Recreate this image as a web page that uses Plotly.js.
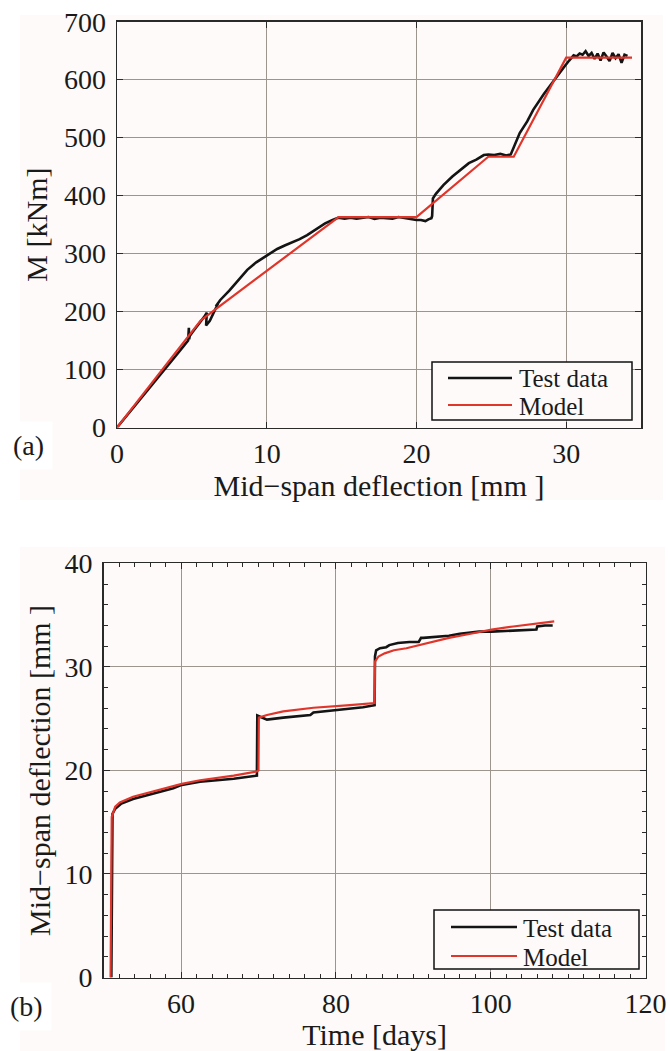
<!DOCTYPE html>
<html>
<head>
<meta charset="utf-8">
<script src="https://cdn.plot.ly/plotly-3.0.1.min.js"></script>
<style>
html,body{margin:0;padding:0;background:#ffffff;}
#chart{width:670px;height:1051px;}
</style>
</head>
<body>
<div id="chart"></div>
<script>
// ---------- (a) Moment vs mid-span deflection ----------
const deflTest = [0, 1.0, 2.0, 3.0, 4.0, 4.5, 4.75, 4.8, 4.82, 4.86, 5.0, 5.4, 5.8, 6.0, 5.95, 6.2, 6.5, 6.75, 6.6, 6.9, 7.5, 8.1, 8.7, 9.3, 10.0, 10.7, 11.2, 11.6, 12.2, 12.7, 13.3, 13.9, 14.4, 14.8, 15.2, 15.6, 16.0, 16.4, 16.8, 17.2, 17.6, 18.0, 18.4, 18.8, 19.2, 19.6, 20.0, 20.3, 20.6, 20.8, 21.0, 21.05, 21.1, 21.3, 21.8, 22.4, 22.9, 23.5, 24.0, 24.5, 24.8, 25.2, 25.6, 26.0, 26.3, 26.6, 26.9, 27.4, 27.8, 28.5, 29.2, 29.6, 29.9, 30.2, 30.5, 30.7, 30.9, 31.1, 31.3, 31.5, 31.7, 31.9, 32.1, 32.3, 32.5, 32.7, 32.9, 33.1, 33.3, 33.5, 33.7, 33.9, 34.1];
const momentTest = [0, 31, 62, 94, 126, 142, 150, 172, 152, 158, 163, 176, 190, 198, 176, 184, 200, 214, 209, 220, 236, 255, 272, 285, 297, 308, 314, 318, 325, 332, 342, 352, 358, 362, 360, 362, 360, 361, 363, 360, 362, 361, 360, 363, 361, 360, 358, 358, 356, 359, 361, 365, 395, 403, 418, 433, 444, 456, 462, 470, 471, 470, 472, 469, 471, 490, 508, 528, 548, 575, 600, 614, 623, 633, 642, 640, 645, 643, 649, 641, 646, 636, 645, 633, 647, 640, 632, 646, 637, 644, 629, 643, 641];
const deflModel = [0, 5.6, 14.8, 20.0, 24.8, 26.5, 30.0, 34.4];
const momentModel = [0, 185, 363, 363, 467, 467, 638, 638];

// ---------- (b) Mid-span deflection vs time ----------
const timeTest = [51.0, 51.05, 51.15, 51.5, 52.3, 53.8, 56.0, 59.0, 60.1, 62.45, 66.8, 69.8, 69.85, 70.2, 71.1, 73.2, 76.7, 77.1, 79.0, 81.8, 83.5, 85.0, 85.05, 85.2, 85.7, 86.5, 86.9, 88.0, 89.5, 90.7, 91.0, 91.3, 93.0, 94.6, 96.0, 97.4, 98.5, 100.1, 102.9, 104.5, 105.9, 106.0, 107.0, 108.0];
const deflTest2 = [0, 10.0, 15.8, 16.3, 16.8, 17.24, 17.65, 18.27, 18.6, 18.9, 19.2, 19.5, 25.3, 25.2, 24.9, 25.1, 25.35, 25.6, 25.75, 25.9, 26.1, 26.3, 31.0, 31.6, 31.8, 31.9, 32.1, 32.3, 32.4, 32.4, 32.8, 32.8, 32.9, 33.0, 33.2, 33.35, 33.4, 33.4, 33.5, 33.55, 33.6, 33.9, 34.0, 34.0];
const timeModel = [50.9, 50.95, 51.05, 51.5, 52.1, 53.8, 56.0, 58.15, 60.1, 62.45, 66.8, 69.8, 70.0, 70.05, 71.1, 73.2, 77.1, 81.8, 85.0, 85.05, 85.5, 86.3, 87.5, 89.1, 91.8, 94.6, 97.4, 100.1, 102.9, 105.5, 108.2];
const deflModel2 = [0, 10.0, 15.5, 16.5, 16.9, 17.45, 17.9, 18.37, 18.7, 19.05, 19.5, 19.9, 20.0, 25.1, 25.35, 25.7, 26.05, 26.3, 26.5, 30.5, 31.0, 31.3, 31.6, 31.8, 32.3, 32.8, 33.2, 33.6, 33.9, 34.15, 34.4];

const seriesNames = ['Test data', 'Model'];
const xTitleA = 'Mid−span deflection [mm ]';
const yTitleA = 'M [kNm]';
const xTitleB = 'Time [days]';
const yTitleB = 'Mid−span deflection [mm ]';

const W = 670, H = 1051;
const px = v => v / W;
const py = v => 1 - v / H;

const FONT = '"Liberation Serif", "Times New Roman", serif';
const TXT = '#1a1a1a';
const BLACK = '#141414';
const RED = '#e0352b';
const GRID = '#9d948e';
const AXL = '#2a2a2a';
const BG = '#fdfaf9';
const LINE_W = {test: 2.6, model: 2.2};

const traces = [
  {x: deflTest, y: momentTest, xaxis: 'x', yaxis: 'y', name: seriesNames[0], mode: 'lines',
   line: {color: BLACK, width: LINE_W.test}, showlegend: false},
  {x: deflModel, y: momentModel, xaxis: 'x', yaxis: 'y', name: seriesNames[1], mode: 'lines',
   line: {color: RED, width: LINE_W.model}, showlegend: false},
  {x: timeTest, y: deflTest2, xaxis: 'x2', yaxis: 'y2', name: seriesNames[0], mode: 'lines',
   line: {color: BLACK, width: LINE_W.test}, showlegend: false},
  {x: timeModel, y: deflModel2, xaxis: 'x2', yaxis: 'y2', name: seriesNames[1], mode: 'lines',
   line: {color: RED, width: LINE_W.model}, showlegend: false}
];

const tickFont = {family: FONT, size: 28, color: TXT};
const titleFont = {family: FONT, size: 30, color: TXT};

function axisBase() {
  return {
    showgrid: true, gridcolor: GRID, gridwidth: 1,
    showline: true, linecolor: AXL, linewidth: 1.5, mirror: 'ticks',
    ticks: 'inside', ticklen: 6, tickcolor: AXL, tickwidth: 1,
    zeroline: false, tickfont: tickFont, fixedrange: true
  };
}

// Legend boxes (drawn as a framed key in paper space)
function legendKey(box, lineX0, lineX1, textX, rowY) {
  const shapes = [
    {type: 'rect', xref: 'paper', yref: 'paper', x0: px(box[0]), x1: px(box[1]), y0: py(box[3]), y1: py(box[2]),
     fillcolor: BG, line: {color: '#111111', width: 1.5}, layer: 'above'},
    {type: 'line', xref: 'paper', yref: 'paper', x0: px(lineX0), x1: px(lineX1), y0: py(rowY[0]), y1: py(rowY[0]),
     line: {color: BLACK, width: LINE_W.test}, layer: 'above'},
    {type: 'line', xref: 'paper', yref: 'paper', x0: px(lineX0), x1: px(lineX1), y0: py(rowY[1]), y1: py(rowY[1]),
     line: {color: RED, width: LINE_W.model}, layer: 'above'}
  ];
  const annots = seriesNames.map((n, i) => ({
    text: n, xref: 'paper', yref: 'paper', x: px(textX), y: py(rowY[i] + 1), xanchor: 'left', yanchor: 'middle',
    showarrow: false, font: {family: FONT, size: 25, color: TXT}
  }));
  return {shapes, annots};
}
const keyA = legendKey([432, 632, 362, 420], 448, 512, 517, [378, 405]);
const keyB = legendKey([434, 639, 910, 969], 451, 517, 521, [927, 956]);

const layout = {
  width: W, height: H,
  margin: {l: 0, r: 0, t: 0, b: 0},
  paper_bgcolor: '#ffffff', plot_bgcolor: BG,
  showlegend: false,
  xaxis: Object.assign(axisBase(), {
    domain: [px(117), px(641)], range: [0, 35], dtick: 10, tick0: 0, anchor: 'y',
    ticklabelstandoff: 0,
    title: {text: xTitleA, font: titleFont, standoff: 2}
  }),
  yaxis: Object.assign(axisBase(), {
    domain: [py(427.5), py(21.7)], range: [0, 700], dtick: 100, tick0: 0, anchor: 'x',
    ticklabelstandoff: 4,
    title: {text: yTitleA, font: titleFont, standoff: 7}
  }),
  xaxis2: Object.assign(axisBase(), {
    domain: [px(103.6), px(645.6)], range: [50, 120], dtick: 20, tick0: 0, anchor: 'y2',
    ticklabelstandoff: 0,
    minor: {dtick: 2, ticks: 'inside', ticklen: 4, tickcolor: AXL, tickwidth: 1, showgrid: false},
    title: {text: xTitleB, font: titleFont, standoff: 4}
  }),
  yaxis2: Object.assign(axisBase(), {
    domain: [py(977.5), py(563.3)], range: [0, 40], dtick: 10, tick0: 0, anchor: 'x2',
    ticklabelstandoff: 4,
    minor: {dtick: 2, ticks: 'inside', ticklen: 4, tickcolor: AXL, tickwidth: 1, showgrid: false},
    title: {text: yTitleB, font: titleFont, standoff: 5}
  }),
  shapes: [
    {type: 'rect', xref: 'paper', yref: 'paper', layer: 'below',
     x0: px(20), x1: px(663), y0: py(500), y1: py(15), fillcolor: BG, line: {width: 0}},
    {type: 'rect', xref: 'paper', yref: 'paper', layer: 'below',
     x0: px(20), x1: px(665), y0: py(1051), y1: py(547), fillcolor: BG, line: {width: 0}}
  ].concat(keyA.shapes, keyB.shapes),
  annotations: [
    {text: '(a)', xref: 'paper', yref: 'paper', x: px(28), y: py(445), xanchor: 'center', yanchor: 'middle',
     showarrow: false, font: {family: FONT, size: 28, color: TXT}, bgcolor: '#ffffff', borderpad: 8},
    {text: '(b)', xref: 'paper', yref: 'paper', x: px(26), y: py(1006), xanchor: 'center', yanchor: 'middle',
     showarrow: false, font: {family: FONT, size: 28, color: TXT}, bgcolor: '#ffffff', borderpad: 8}
  ].concat(keyA.annots, keyB.annots)
};

Plotly.newPlot('chart', traces, layout, {displayModeBar: false, staticPlot: true});
</script>
</body>
</html>
